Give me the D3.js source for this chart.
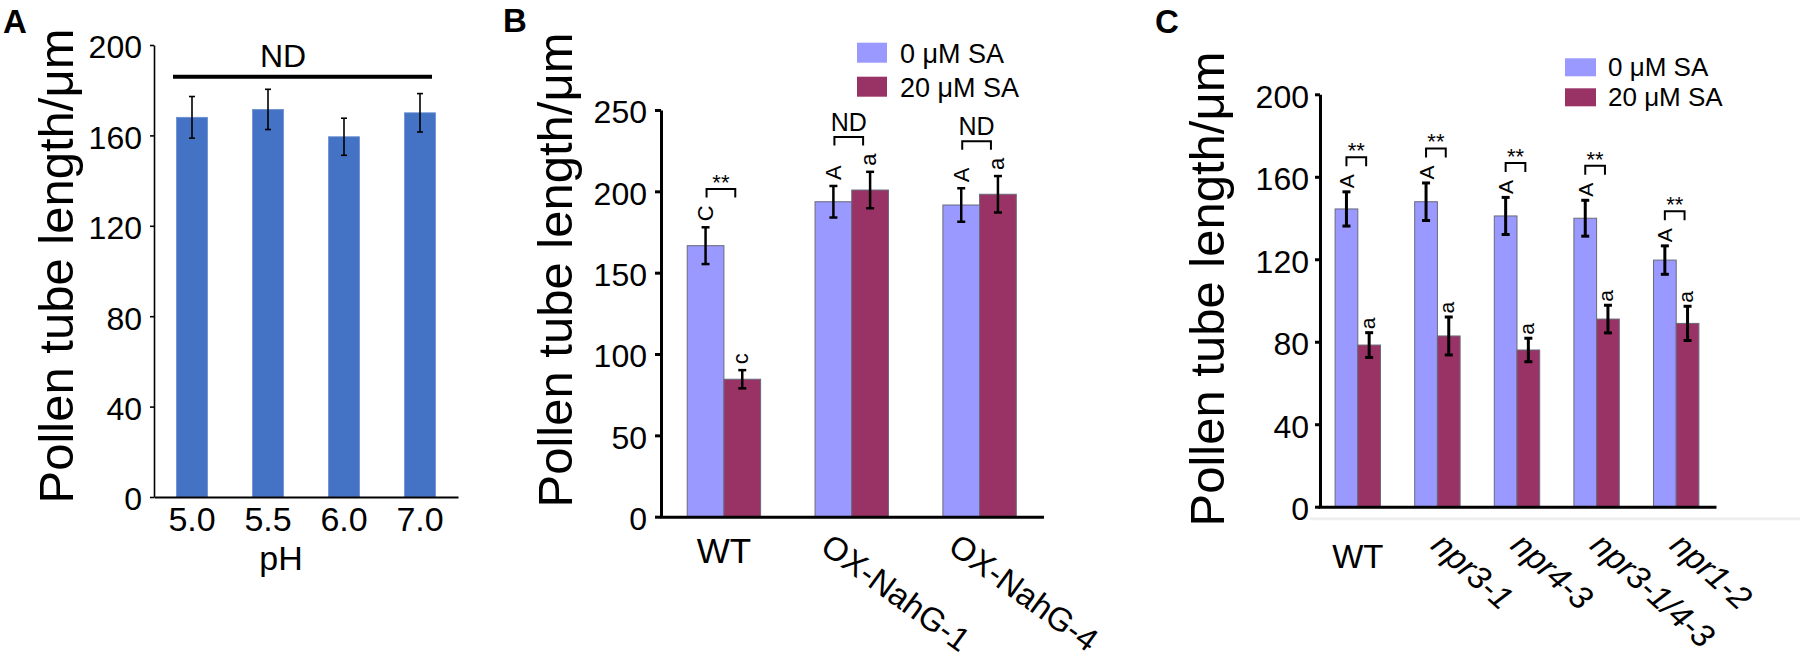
<!DOCTYPE html>
<html><head><meta charset="utf-8">
<script src="https://cdn.jsdelivr.net/npm/d3@7"></script>
<style>
body{margin:0;background:#fff;}
svg text{font-family:"Liberation Sans", Arial, Helvetica, sans-serif;fill:#000;}
</style></head><body>
<svg id="chart" width="1800" height="658"></svg>
<script>
// ---------- DATA ----------
const phCategories = ["5.0","5.5","6.0","7.0"];
const phMeans = [168.0, 171.5, 159.4, 170.0];
const phErrors = [9.2, 8.9, 8.2, 8.5];
const phTicks = [0,40,80,120,160,200];
const phNdLevel = 186;
const phSigLabel = "ND";

const seriesNames = ["0 μM SA","20 μM SA"];
const seriesColors = ["#9999ff","#993366"];

const nahgCategories = ["WT","OX-NahG-1","OX-NahG-4"];
const nahgSA0 = [166.6, 193.6, 191.6];
const nahgSA0Err = [11.3, 9.7, 10.3];
const nahgSA20 = [84.5, 200.8, 198.2];
const nahgSA20Err = [5.6, 11.2, 11.2];
const nahgLetters0 = ["C","A","A"];
const nahgLetters20 = ["c","a","a"];
const nahgSig = ["**","ND","ND"];
const nahgTicks = [0,50,100,150,200,250];

const nprCategories = ["WT","npr3-1","npr4-3","npr3-1/4-3","npr1-2"];
const nprSA0 = [144.4, 147.9, 141.0, 139.9, 119.6];
const nprSA0Err = [8.3, 9.1, 9.0, 8.7, 6.9];
const nprSA20 = [78.4, 82.8, 76.0, 91.0, 88.9];
const nprSA20Err = [6.0, 9.2, 5.7, 6.7, 8.3];
const nprLetters0 = ["A","A","A","A","A"];
const nprLetters20 = ["a","a","a","a","a"];
const nprSig = ["**","**","**","**","**"];
const nprTicks = [0,40,80,120,160,200];

const panelLetters = ["A","B","C"];
const yTitle = "Pollen tube length/μm";

// ---------- DRAW ----------
const svg = d3.select("#chart");

function styleYAxis(ax, font, width){
  ax.attr("font-family", null).attr("font-size", null);
  ax.select(".domain").attr("stroke","#000").attr("stroke-width",width);
  ax.selectAll(".tick line").attr("stroke","#000").attr("stroke-width",width);
  ax.selectAll(".tick text").attr("font-size",font).attr("dy","0.4em");
}

// ----- Panel A -----
(function(){
  const g = svg.append("g");
  const x = d3.scaleBand().domain(phCategories).range([154,458]).paddingInner(0.592).paddingOuter(0.296);
  const y = d3.scaleLinear().domain([0,200]).range([497,45]);
  g.selectAll("rect").data(phCategories).join("rect")
    .attr("x", d=>x(d)).attr("width", x.bandwidth())
    .attr("y",(d,i)=>y(phMeans[i])).attr("height",(d,i)=>y(0)-y(phMeans[i]))
    .attr("fill","#4472c4").attr("stroke","#6b8fd3").attr("stroke-width",0.8);
  const eb = g.append("g").attr("stroke","#000").attr("stroke-width",1.6);
  phCategories.forEach((d,i)=>{
    const cx = x(d)+x.bandwidth()/2;
    const t = y(phMeans[i]+phErrors[i]), b = y(phMeans[i]-phErrors[i]);
    eb.append("line").attr("x1",cx).attr("x2",cx).attr("y1",t).attr("y2",b);
    eb.append("line").attr("x1",cx-3).attr("x2",cx+3).attr("y1",t).attr("y2",t);
    eb.append("line").attr("x1",cx-3).attr("x2",cx+3).attr("y1",b).attr("y2",b);
  });
  const ay = g.append("g").attr("transform","translate(154,0)")
    .call(d3.axisLeft(y).tickValues(phTicks).tickSize(4).tickSizeOuter(0).tickPadding(8));
  styleYAxis(ay, 32, 1.6);
  const ax = g.append("g").attr("transform",`translate(0,${y(0)})`)
    .call(d3.axisBottom(x).tickSize(0).tickSizeOuter(0).tickPadding(10));
  ax.attr("font-family",null).attr("font-size",null);
  ax.select(".domain").attr("stroke","#000").attr("stroke-width",1.8);
  ax.selectAll(".tick text").attr("font-size",34).attr("y",34).attr("dy",0);
  g.append("text").attr("x",281).attr("y",570).attr("text-anchor","middle").attr("font-size",34).text("pH");
  // ND line
  g.append("line").attr("x1",173).attr("x2",432).attr("y1",y(phNdLevel)).attr("y2",y(phNdLevel))
    .attr("stroke","#000").attr("stroke-width",4);
  g.append("text").attr("x",283).attr("y",y(phNdLevel)-10).attr("text-anchor","middle").attr("font-size",32).text(phSigLabel);
  g.append("text").attr("transform","translate(73,266) rotate(-90)").attr("text-anchor","middle")
    .attr("font-size",49).text(yTitle);
  g.append("text").attr("x",3).attr("y",33).attr("font-size",33).attr("font-weight","bold").text(panelLetters[0]);
})();

function groupedPanel(o){
  const g = svg.append("g");
  const x0 = d3.scaleBand().domain(o.cats).range(o.xRange).paddingInner(o.pad).paddingOuter(o.pad/2);
  const x1 = d3.scaleBand().domain([0,1]).range([0,x0.bandwidth()]);
  const y = d3.scaleLinear().domain([0,o.yMax]).range(o.yRange);
  const series = [
    {vals:o.s0, errs:o.e0, letters:o.l0, color:seriesColors[0]},
    {vals:o.s1, errs:o.e1, letters:o.l1, color:seriesColors[1]}
  ];
  if (o.grayLine) {
    g.append("line").attr("x1",o.grayLine[0]).attr("x2",o.grayLine[1]).attr("y1",y(0)+12).attr("y2",y(0)+12)
      .attr("stroke","#efefef").attr("stroke-width",3);
  }
  series.forEach((s,si)=>{
    g.append("g").selectAll("rect").data(o.cats).join("rect")
      .attr("x",d=>x0(d)+x1(si)).attr("width",x1.bandwidth())
      .attr("y",(d,i)=>y(s.vals[i])).attr("height",(d,i)=>y(0)-y(s.vals[i]))
      .attr("fill",s.color).attr("stroke","#6a6a7a").attr("stroke-width",1);
  });
  const eb = g.append("g").attr("stroke","#000").attr("stroke-width",o.ebW);
  const ann = g.append("g");
  o.cats.forEach((d,i)=>{
    const tops = [], cxs = [];
    series.forEach((s,si)=>{
      const cx = x0(d)+x1(si)+x1.bandwidth()/2;
      cxs.push(cx);
      const t = y(s.vals[i]+s.errs[i]), b = y(s.vals[i]-s.errs[i]);
      eb.append("line").attr("x1",cx).attr("x2",cx).attr("y1",t).attr("y2",b);
      eb.append("line").attr("x1",cx-o.cap).attr("x2",cx+o.cap).attr("y1",t).attr("y2",t);
      eb.append("line").attr("x1",cx-o.cap).attr("x2",cx+o.cap).attr("y1",b).attr("y2",b);
      const letter = s.letters[i];
      const upper = letter === letter.toUpperCase();
      const h = (upper ? 0.716 : 0.519) * o.letterFont;
      const bottom = t - o.letterGap;
      const txt = ann.append("text").attr("transform",`translate(${cx+h/2},${bottom}) rotate(-90)`)
        .attr("font-size",o.letterFont).attr("text-anchor","start").text(letter);
      tops.push(bottom - txt.node().getComputedTextLength());
    });
    const left = cxs[0] + o.brL, right = cxs[1] + o.brR;
    const legBottom = Math.min(...tops) - o.brGap;
    const top = legBottom - o.brLeg;
    ann.append("path").attr("d",`M${left},${legBottom}V${top}H${right}V${legBottom}`)
      .attr("fill","none").attr("stroke","#000").attr("stroke-width",o.brW);
    const sig = o.sig[i];
    ann.append("text").attr("x",(left+right)/2).attr("y", sig==="ND" ? top-6 : top+1)
      .attr("text-anchor","middle").attr("font-size", sig==="ND" ? o.ndFont : o.starFont).text(sig);
  });
  const ay = g.append("g").attr("transform",`translate(${o.yAxisX},0)`)
    .call(d3.axisLeft(y).tickValues(o.ticks).tickSize(o.tickLen).tickSizeOuter(0).tickPadding(o.tickPad));
  styleYAxis(ay, o.tickFont, o.axisW);
  const ax = g.append("g").attr("transform",`translate(0,${y(0)})`)
    .call(d3.axisBottom(x0).tickSize(0).tickSizeOuter(0));
  ax.attr("font-family",null).attr("font-size",null);
  ax.select(".domain").attr("stroke","#000").attr("stroke-width",o.axisW);
  ax.selectAll(".tick text").each(function(d){
    const t = d3.select(this);
    if (d === "WT") {
      t.attr("font-size",o.xFont).attr("y",o.wtDy).attr("dy",0).attr("text-anchor","middle");
    } else {
      t.attr("font-size",o.rotFont).attr("x",o.rotDx).attr("y",o.rotDy).attr("dy",0).attr("text-anchor","start")
       .attr("transform",`rotate(${o.angle},${o.rotDx},${o.rotDy})`);
      if (o.italic) t.attr("font-style","italic");
    }
  });
  // legend
  const lg = g.append("g");
  seriesNames.forEach((n,k)=>{
    lg.append("rect").attr("x",o.leg.x).attr("y",o.leg.y+k*o.leg.gap).attr("width",o.leg.w).attr("height",o.leg.h)
      .attr("fill",seriesColors[k]);
    lg.append("text").attr("x",o.leg.tx).attr("y",o.leg.y+o.leg.h+k*o.leg.gap).attr("font-size",o.leg.font).text(n);
  });
  g.append("text").attr("transform",`translate(${o.titleX},${o.titleY}) rotate(-90)`).attr("text-anchor","middle")
    .attr("font-size",49).text(yTitle);
  g.append("text").attr("x",o.letterPos[0]).attr("y",o.letterPos[1]).attr("font-size",33).attr("font-weight","bold").text(o.panel);
}

groupedPanel({
  cats:nahgCategories, s0:nahgSA0, e0:nahgSA0Err, s1:nahgSA20, e1:nahgSA20Err,
  l0:nahgLetters0, l1:nahgLetters20, sig:nahgSig, ticks:nahgTicks, yMax:250,
  xRange:[660,1043.5], pad:0.4257, yRange:[516.7,110], yAxisX:661,
  ebW:2.5, cap:4, letterFont:22, letterGap:6, brL:1, brR:-7, brGap:8, brLeg:8.5, brW:2,
  ndFont:25, starFont:22, tickLen:6, tickPad:8, tickFont:32, axisW:3,
  xFont:35, rotFont:33, wtDy:46.5, rotDx:-33, rotDy:34, angle:36, italic:false,
  leg:{x:857, y:42.7, w:30, h:20, gap:34, tx:900, font:27},
  titleX:572, titleY:270, letterPos:[503,32], panel:panelLetters[1]
});

groupedPanel({
  cats:nprCategories, s0:nprSA0, e0:nprSA0Err, s1:nprSA20, e1:nprSA20Err,
  l0:nprLetters0, l1:nprLetters20, sig:nprSig, ticks:nprTicks, yMax:200,
  xRange:[1318,1716], pad:0.4296, yRange:[506.7,94.3], yAxisX:1320,
  ebW:3, cap:4, letterFont:21, letterGap:3.5, brL:0, brR:-3, brGap:8, brLeg:9, brW:2,
  ndFont:25, starFont:22, tickLen:5, tickPad:6, tickFont:32, axisW:3,
  xFont:33, rotFont:33, wtDy:61, rotDx:-8, rotDy:41, angle:42, italic:true,
  leg:{x:1565, y:58.3, w:31, h:18, gap:30, tx:1608, font:26},
  titleX:1224, titleY:289, letterPos:[1155,33], panel:panelLetters[2],
  grayLine:[1310,1800]
});
</script>
</body></html>
